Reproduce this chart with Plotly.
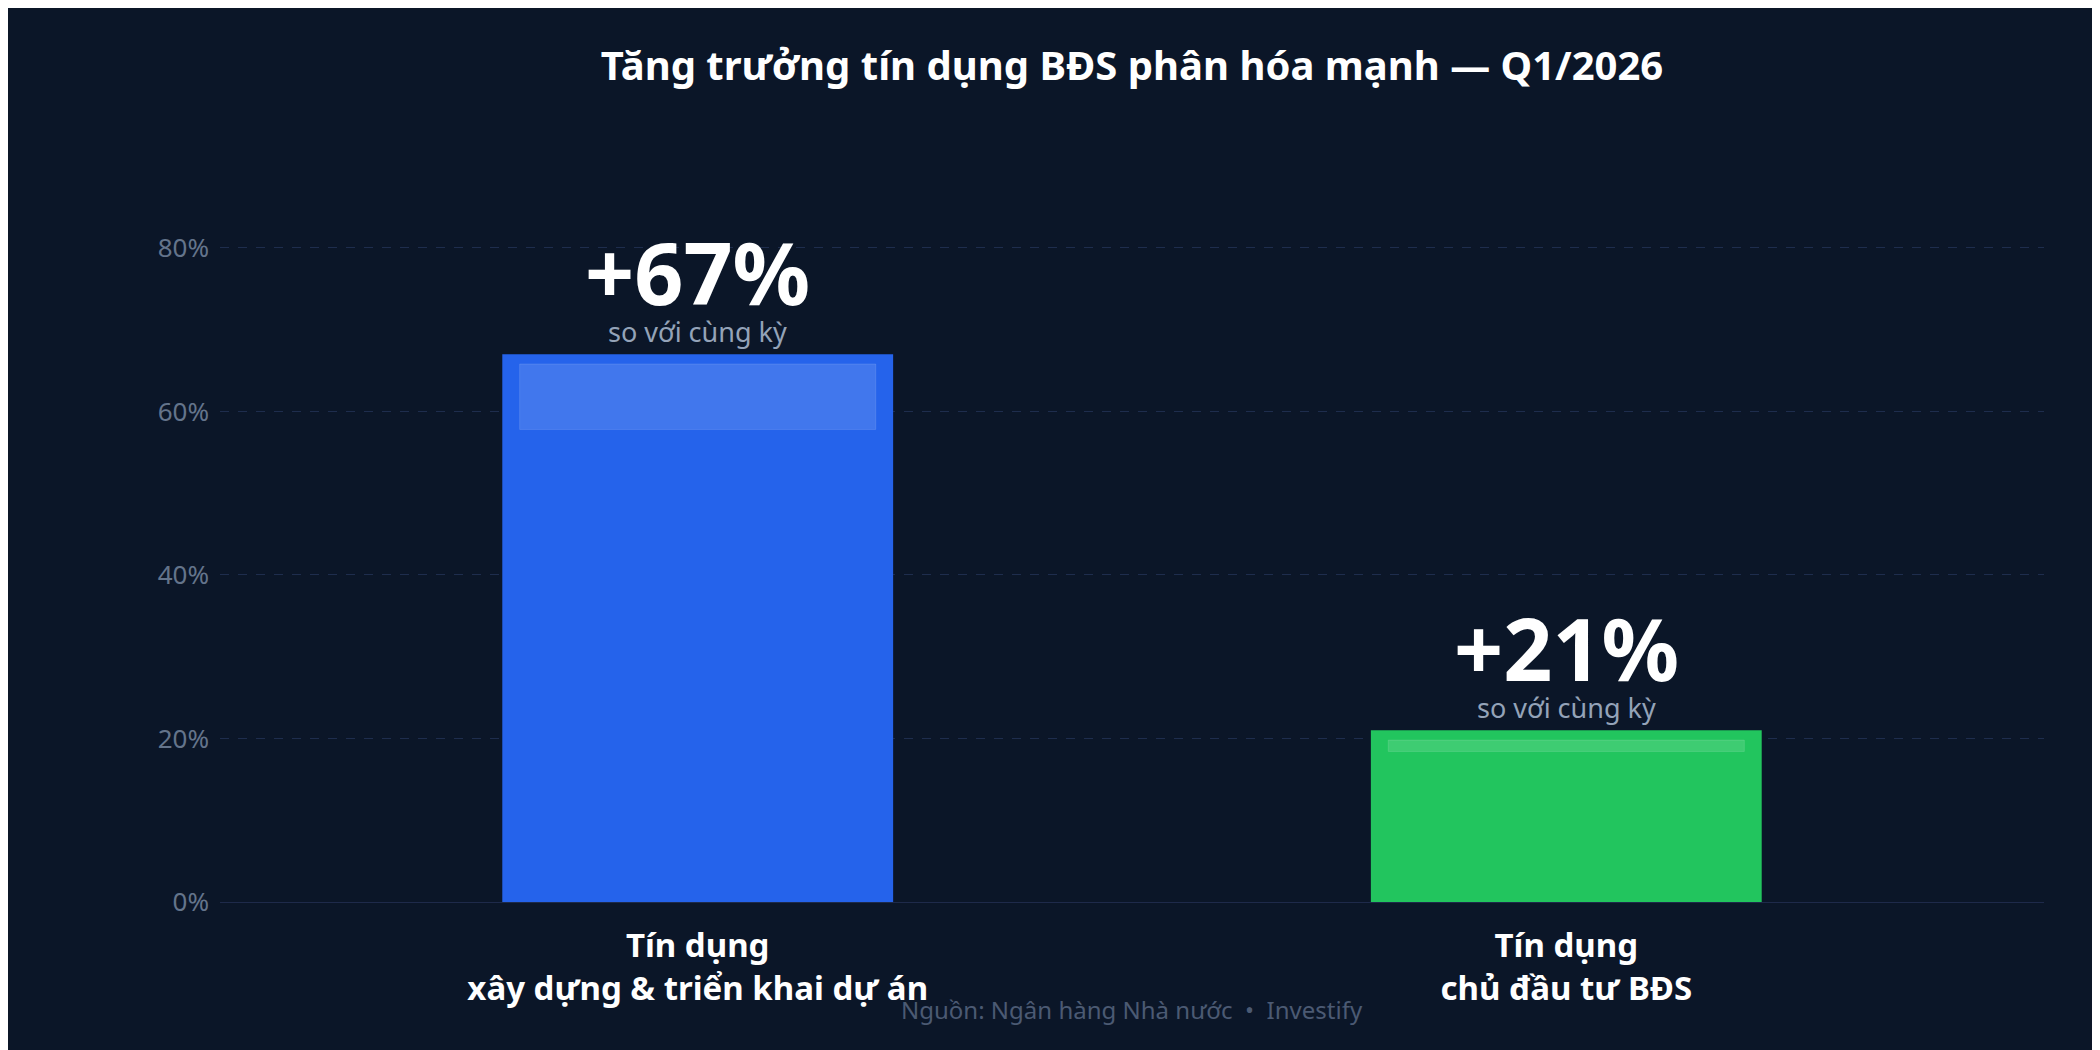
import plotly.graph_objects as go

categories = ["Tín dụng<br>xây dựng & triển khai dự án", "Tín dụng<br>chủ đầu tư BĐS"]
values = [67, 21]
labels = ["+67%", "+21%"]
colors = ["#2563eb", "#22c55e"]
tick_vals = [0, 20, 40, 60, 80]
tick_text = ["0%", "20%", "40%", "60%", "80%"]

FONT = "Noto Sans"
BG = "#0b1628"

fig = go.Figure(go.Bar(x=[0, 1], y=values, marker=dict(color=colors, line=dict(width=0)),
                       width=0.45, hoverinfo="skip"))

for i, v in enumerate(values):
    fig.add_shape(type="rect", xref="x", yref="y", x0=i - 0.205, x1=i + 0.205,
                  y0=v - min(8, v * 0.12) * (1 if v > 30 else 0.55) - 1.2, y1=v - 1.2,
                  fillcolor="rgba(255,255,255,0.13)", line=dict(color="rgba(255,255,255,0.12)", width=1))
    fig.add_annotation(x=i, y=v, yref="y", text=f"<b>{labels[i]}</b>", showarrow=False,
                       yanchor="bottom", yshift=22, font=dict(family=FONT, size=86, color="white"))
    fig.add_annotation(x=i, y=v, yref="y", text="so với cùng kỳ", showarrow=False,
                       yanchor="bottom", yshift=2, font=dict(family=FONT, size=27, color="#94a3b8"))

fig.add_annotation(xref="paper", yref="paper", x=0.5, y=-0.17, text="Nguồn: Ngân hàng Nhà nước  •  Investify",
                   showarrow=False, font=dict(family=FONT, size=24, color="#4b5a73"))

fig.update_layout(
    width=2100, height=1050, paper_bgcolor=BG, plot_bgcolor=BG,
    margin=dict(l=212, r=64, t=150, b=156),
    title=dict(text="<b>Tăng trưởng tín dụng BĐS phân hóa mạnh — Q1/2026</b>", x=0.5, xref="paper",
               xanchor="center", y=0.945, yanchor="middle", font=dict(family=FONT, size=40, color="white")),
    showlegend=False,
    xaxis=dict(tickvals=[0, 1], ticktext=[f"<b>{c}</b>" for c in categories], range=[-0.55, 1.55],
               tickfont=dict(family=FONT, size=33, color="white"), showgrid=False, zeroline=False,
               showline=True, linecolor="#1e2a4a", ticks="", ticklabelstandoff=14),
    yaxis=dict(range=[0, 91], tickvals=tick_vals, ticktext=tick_text,
               tickfont=dict(family=FONT, size=26, color="#64748b"),
               gridcolor="#1e2d4d", griddash="dash", zeroline=False, ticks="", ticklabelstandoff=10),
)
fig.write_html("out.html")
